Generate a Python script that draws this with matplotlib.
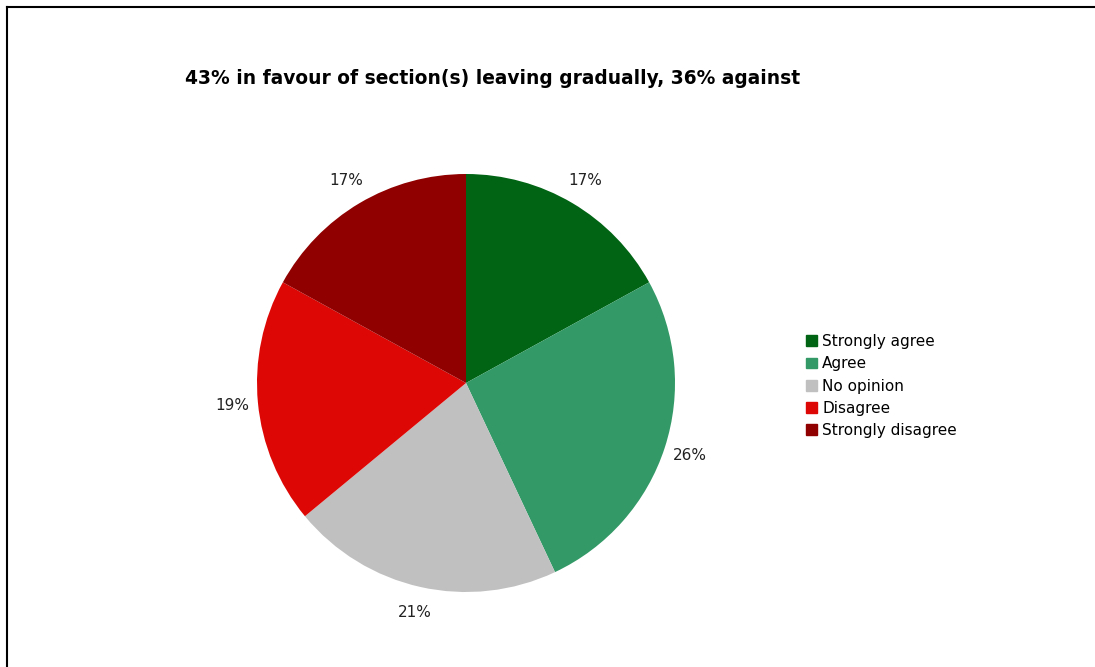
import matplotlib
matplotlib.use('Agg')
import matplotlib.pyplot as plt
import matplotlib.patches as mpatches
from matplotlib.lines import Line2D

# data
categories = ['Strongly agree', 'Agree', 'No opinion', 'Disagree', 'Strongly disagree']
shares = [17, 26, 21, 19, 17]
colours = ['#006414', '#339966', '#C0C0C0', '#DD0806', '#900000']
title = '43% in favour of section(s) leaving gradually, 36% against'

W, H = 1095, 667
fig = plt.figure(figsize=(W / 100, H / 100), dpi=100)

# frame lines (top and left only, the rest is cropped)
fig.add_artist(Line2D([7 / W, 1], [1 - 7 / H, 1 - 7 / H], color='black', lw=1.5))
fig.add_artist(Line2D([7 / W, 7 / W], [0, 1 - 7 / H], color='black', lw=1.5))

# pie: centre (466, 383), radius 209 px
cx, cy, r = 466, 383, 209
ax = fig.add_axes([(cx - r) / W, (H - cy - r) / H, 2 * r / W, 2 * r / H])
ax.pie(shares, colors=colours, startangle=90, counterclock=False,
       labels=[f'{v}%' for v in shares], labeldistance=1.125,
       textprops=dict(fontsize=11, color='#222222', ha='center', va='center'),
       wedgeprops=dict(linewidth=0))
ax.set_xlim(-1, 1)
ax.set_ylim(-1, 1)
ax.set_aspect('auto')
ax.axis('off')

fig.text(493 / W, 1 - 79 / H, title, ha='center', va='center',
         fontsize=13.4, fontweight='bold')

handles = [mpatches.Patch(color=c, label=l) for c, l in zip(colours, categories)]
fig.legend(handles=handles, loc='center left', bbox_to_anchor=(806 / W, 1 - 386 / H),
           frameon=False, fontsize=11, labelspacing=0.47, handlelength=0.72,
           handleheight=0.72, handletextpad=0.33, borderpad=0, borderaxespad=0)

plt.savefig('out.png', dpi=100)
